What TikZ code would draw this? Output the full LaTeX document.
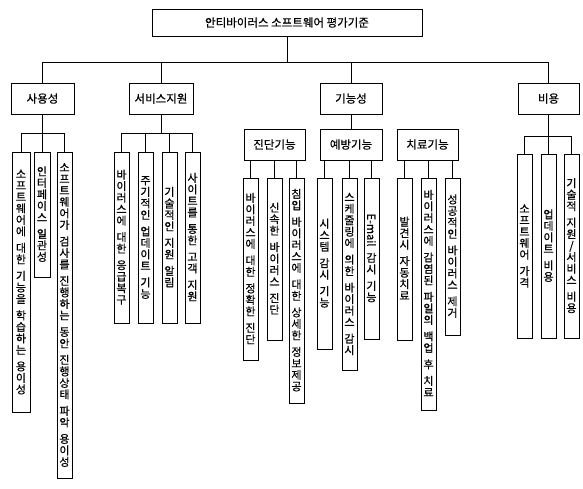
\documentclass[tikz,border=0pt]{standalone}
\usepackage{fontspec}
\usepackage{graphicx}
\newfontfamily\kr[FakeBold=0.6]{Noto Sans CJK KR}
\makeatletter
\def\vtx#1{\vbox{\offinterlineskip\kr\fontsize{11}{11.5}\selectfont\vtx@#1\@nil}}
\def\vtx@#1{\ifx#1\@nil\else\vtx@one{#1}\expandafter\vtx@\fi}
\def\vtx@one#1{\ifx~#1\vskip5pt\else\hbox to 13pt{\hss\vrule height 9.5pt depth 2pt width 0pt #1\hss}\fi}
\makeatother
\tikzset{
  lbl/.style={draw, line width=0.9pt, inner sep=0pt, font=\kr\fontsize{11.5}{13}\selectfont},
  vcell/.style={draw, line width=0.9pt, inner sep=0pt},
  conn/.style={line width=0.9pt}
}
\newcommand\vbx[6]{\node[vcell, minimum width={(#3-#2)*1pt}, minimum height={(#5-#4)*1pt}] (#1) at ({(#2+#3)/2},{(#4+#5)/2}) {#6};}
\begin{document}
\begin{tikzpicture}[x=1pt,y=-1pt]
\useasboundingbox (0,0) rectangle (583,488);
% root
\node[lbl, minimum width=270pt, minimum height=27pt] (root) at (287,22.5) {안티바이러스 소프트웨어 평가기준};
% level 1
\node[lbl, minimum width=63pt, minimum height=31pt] (n1) at (42.5,98.5) {사용성};
\node[lbl, minimum width=64pt, minimum height=31pt] (n2) at (161,98.5) {서비스지원};
\node[lbl, minimum width=62pt, minimum height=31pt] (n3) at (351,98.5) {기능성};
\node[lbl, minimum width=61pt, minimum height=31pt] (n4) at (548.5,98.5) {비용};
% level 2 under 기능성
\node[lbl, minimum width=61pt, minimum height=31pt] (f1) at (274.5,144.5) {진단기능};
\node[lbl, minimum width=62pt, minimum height=31pt] (f2) at (351,144.5) {예방기능};
\node[lbl, minimum width=61pt, minimum height=31pt] (f3) at (427.5,144.5) {치료기능};
% 사용성 children
\vbx{u1}{12}{30}{152}{412}{\vtx{소프트웨어에~대한~기능을~학습하는~용이성}}
\vbx{u2}{34}{50}{152}{277}{\vtx{인터페이스~일관성}}
\vbx{u3}{57}{72}{152}{478}{\vtx{소프트웨어가~검사를~진행하는~동안~진행상태~파악~용이성}}
% 서비스지원 children
\vbx{s1}{114}{129}{152}{323}{\vtx{바이러스에~대한~응급복구}}
\vbx{s2}{138}{153}{152}{323}{\vtx{주기적인~업데이트~기능}}
\vbx{s3}{162}{177}{152}{323}{\vtx{기술적인~지원~알림}}
\vbx{s4}{185}{200}{152}{323}{\vtx{사이트를~통한~고객~지원}}
% 진단기능 children
\vbx{d1}{243}{258}{178}{360}{\vtx{바이러스에~대한~정확한~진단}}
\vbx{d2}{267}{282}{178}{340}{\vtx{신속한~바이러스~진단}}
\vbx{d3}{289}{304}{178}{403}{\vtx{침입~바이러스에~대한~상세한~정보제공}}
% 예방기능 children
\vbx{p1}{317}{332}{178}{349}{\vtx{시스템~감시~기능}}
\vbx{p2}{342}{357}{178}{370}{\vtx{스케줄링에~의한~바이러스~감시}}
\vbx{p3}{364}{379}{178}{339}{\vbox{\hbox to 13pt{\hss\rotatebox{-90}{\kr\fontsize{11}{12}\selectfont E-mail}\hss}\vskip5pt\vtx{감시~기능}}}
% 치료기능 children
\vbx{t1}{397}{412}{178}{340}{\vtx{발견시~자동치료}}
\vbx{t2}{421}{436}{178}{410}{\vtx{바이러스에~감염된~파일의~백업~후~치료}}
\vbx{t3}{445}{460}{178}{335}{\vtx{성공적인~바이러스~제거}}
% 비용 children
\vbx{b1}{517}{532}{154}{338}{\vtx{소프트웨어~가격}}
\vbx{b2}{541}{556}{154}{338}{\vtx{업데이트~비용}}
\vbx{b3}{564}{579}{154}{338}{\vtx{기술적~지원/서비스~비용}}
% connectors
\coordinate (bus) at (0,62);
\coordinate (ubar) at (0,133);
\coordinate (bbar) at (0,136);
\draw[conn] (root.south) -- (root.south |- bus);
\draw[conn] (n1.north) -- (n1.north |- bus) -| (n4.north);
\draw[conn] (n2.north) -- (n2.north |- bus);
\draw[conn] (n3.north) -- (n3.north |- bus);
\draw[conn] (n3.south) -- (f2.north);
\draw[conn] (n1.south) -- (n1.south |- ubar);
\draw[conn] (u1.north) -- (u1.north |- ubar) -| (u3.north);
\draw[conn] (u2.north) -- (u2.north |- ubar);
\draw[conn] (n2.south) -- (n2.south |- ubar);
\draw[conn] (s1.north) -- (s1.north |- ubar) -| (s4.north);
\draw[conn] (s2.north) -- (s2.north |- ubar);
\draw[conn] (s3.north) -- (s3.north |- ubar);
\draw[conn] (n4.south) -- (n4.south |- bbar);
\draw[conn] (b1.north) -- (b1.north |- bbar) -| (b3.north);
\draw[conn] (b2.north) -- (b2.north |- bbar);
\foreach \c in {d1,d2,d3} \draw[conn] (\c.north) -- (\c.north |- f1.south);
\foreach \c in {p1,p2,p3} \draw[conn] (\c.north) -- (\c.north |- f2.south);
\foreach \c in {t1,t2,t3} \draw[conn] (\c.north) -- (\c.north |- f3.south);
\end{tikzpicture}
\end{document}
